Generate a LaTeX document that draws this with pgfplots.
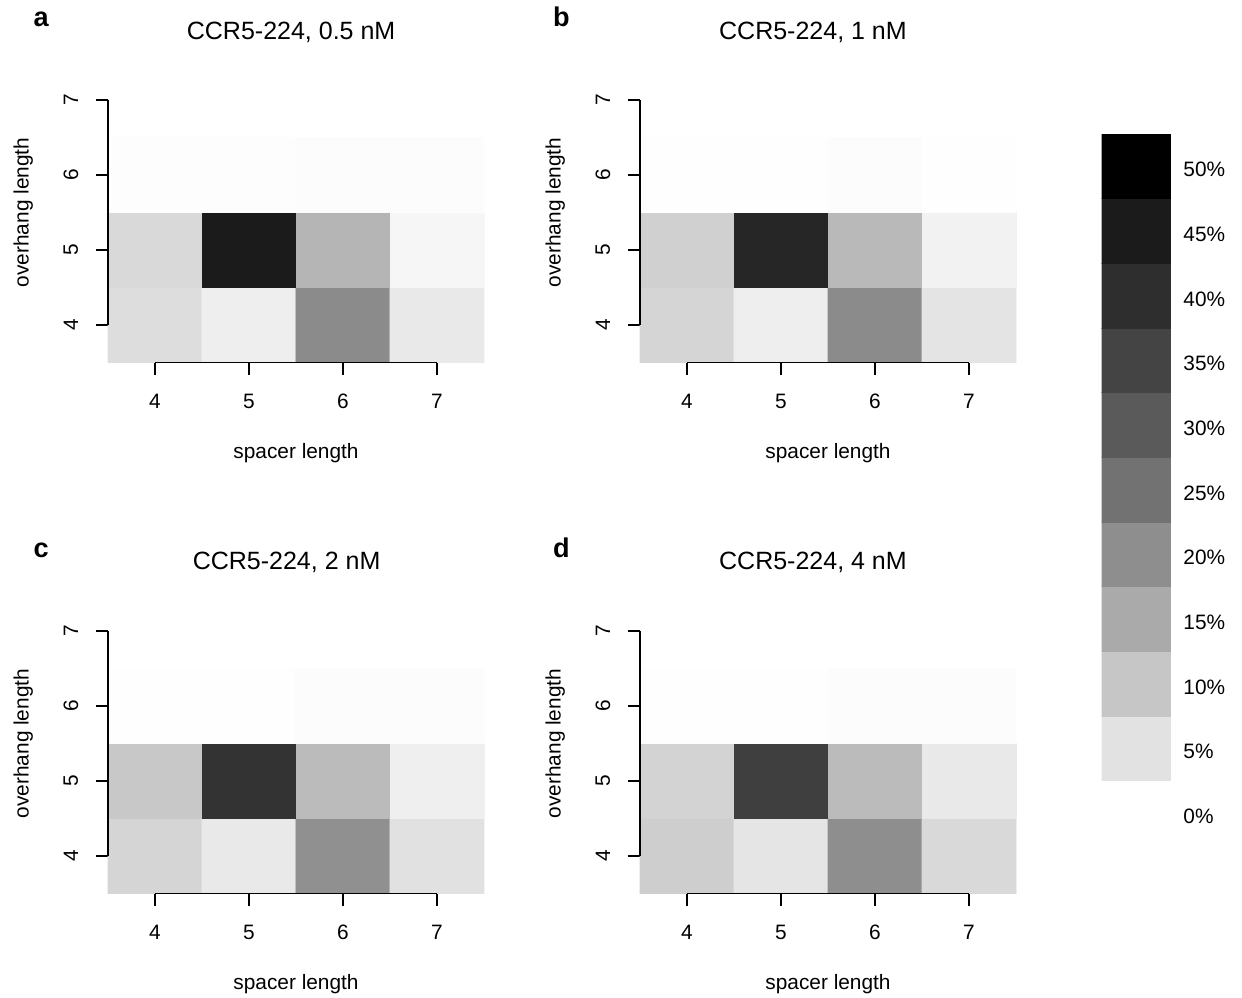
\documentclass[border=0pt]{standalone}
\usepackage{fontspec}
\setmainfont{Liberation Sans}
\usepackage{pgfplots}
\pgfplotsset{compat=1.18}

\tikzset{rlines/.style={line width=0.9pt, black}}

% grey scale read off the legend boxes (0% white ... 50% black)
\pgfplotsset{
  colormap={rgray}{rgb255(0cm)=(255,255,255) rgb255(5cm)=(226,226,226)
    rgb255(10cm)=(198,198,198) rgb255(15cm)=(170,170,170) rgb255(20cm)=(142,142,142)
    rgb255(25cm)=(114,114,114) rgb255(30cm)=(90,90,90) rgb255(35cm)=(68,68,68)
    rgb255(40cm)=(46,46,46) rgb255(45cm)=(27,27,27) rgb255(50cm)=(0,0,0)},
  heat/.style={
    scale only axis, width=180.48pt, height=144pt, anchor=south west,
    xmin=3.5, xmax=7.5, ymin=3.5, ymax=7.5,
    xtick={4,5,6,7}, ytick={4,5,6,7},
    axis lines*=left, axis line style={draw=none},
    tick align=outside, major tick length=6pt,
    tick style={black, line width=0.9pt},
    /pgf/number format/assume math mode=true,
    tick label style={font=\fontsize{10}{12}\selectfont},
    xticklabel style={anchor=center, yshift=-12.7pt},
    yticklabel style={anchor=center, xshift=-11.8pt, rotate=90},
    label style={font=\fontsize{10}{12}\selectfont},
    xlabel={spacer length}, ylabel={overhang length},
    xlabel style={at={(axis description cs:0.5,-0.3028)}, anchor=center},
    ylabel style={at={(axis description cs:-0.2255,0.5)}, anchor=center},
    title style={font=\fontsize{12}{14}\selectfont, anchor=base},
    colormap name=rgray, point meta min=0, point meta max=50,
    clip=false,
  },
}

\pgfplotstableread{
x y v
4 4 5.9
5 4 2.9
6 4 20.5
7 4 3.8
4 5 6.6
5 5 45.0
6 5 13.0
7 5 1.6
4 6 0.3
5 6 0.3
6 6 0.5
7 6 0.5
}\dataA
\pgfplotstableread{
x y v
4 4 7.3
5 4 2.9
6 4 20.5
7 4 4.7
4 5 8.2
5 5 42.1
6 5 12.3
7 5 2.2
4 6 0.2
5 6 0.2
6 6 0.5
7 6 0.2
}\dataB
\pgfplotstableread{
x y v
4 4 7.3
5 4 3.8
6 4 19.6
7 4 5.2
4 5 9.6
5 5 38.9
6 5 12.0
7 5 2.8
4 6 0.2
5 6 0.2
6 6 0.5
7 6 0.5
}\dataC
\pgfplotstableread{
x y v
4 4 8.6
5 4 4.5
6 4 20.0
7 4 6.6
4 5 7.7
5 5 36.1
6 5 12.0
7 5 3.8
4 6 0.2
5 6 0.2
6 6 0.5
7 6 0.5
}\dataD
% legend: corners of the boxes, the colour of each box is the one of its lower corner
\pgfplotstableread{
x y v
-0.5 0.5 5
1.5 0.5 5
-0.5 1.5 10
1.5 1.5 10
-0.5 2.5 15
1.5 2.5 15
-0.5 3.5 20
1.5 3.5 20
-0.5 4.5 25
1.5 4.5 25
-0.5 5.5 30
1.5 5.5 30
-0.5 6.5 35
1.5 6.5 35
-0.5 7.5 40
1.5 7.5 40
-0.5 8.5 45
1.5 8.5 45
-0.5 9.5 50
1.5 9.5 50
-0.5 10.5 50
1.5 10.5 50
}\legdata

\begin{document}
\begin{tikzpicture}
\useasboundingbox (0pt,0pt) rectangle (596.16pt,-478.56pt);

\begin{axis}[heat, at={(51.84pt,-174pt)}, title={CCR5-224, 0.5 nM},
  title style={at={(axis description cs:0.487,1.035)}}]
\addplot[matrix plot*, mesh/cols=4, point meta=explicit] table[meta=v] {\dataA};
\draw[rlines] (axis cs:4,3.5) -- (axis cs:7,3.5);
\draw[rlines] (axis cs:3.5,4) -- (axis cs:3.5,7);
\end{axis}

\begin{axis}[heat, at={(307.2pt,-174pt)}, title={CCR5-224, 1 nM},
  title style={at={(axis description cs:0.46,1.035)}}]
\addplot[matrix plot*, mesh/cols=4, point meta=explicit] table[meta=v] {\dataB};
\draw[rlines] (axis cs:4,3.5) -- (axis cs:7,3.5);
\draw[rlines] (axis cs:3.5,4) -- (axis cs:3.5,7);
\end{axis}

\begin{axis}[heat, at={(51.84pt,-428.9pt)}, title={CCR5-224, 2 nM},
  title style={at={(axis description cs:0.475,1.038)}}]
\addplot[matrix plot*, mesh/cols=4, point meta=explicit] table[meta=v] {\dataC};
\draw[rlines] (axis cs:4,3.5) -- (axis cs:7,3.5);
\draw[rlines] (axis cs:3.5,4) -- (axis cs:3.5,7);
\end{axis}

\begin{axis}[heat, at={(307.2pt,-428.9pt)}, title={CCR5-224, 4 nM},
  title style={at={(axis description cs:0.46,1.038)}}]
\addplot[matrix plot*, mesh/cols=4, point meta=explicit] table[meta=v] {\dataD};
\draw[rlines] (axis cs:4,3.5) -- (axis cs:7,3.5);
\draw[rlines] (axis cs:3.5,4) -- (axis cs:3.5,7);
\end{axis}

% legend boxes
\begin{axis}[scale only axis, width=33.26pt, height=341.3pt, anchor=south west,
  at={(528.8pt,-405.7pt)}, xmin=-0.5, xmax=1.5, ymin=-0.5, ymax=10.5,
  axis line style={draw=none}, xtick=\empty, ytick={0,...,10},
  yticklabels={0\%,5\%,10\%,15\%,20\%,25\%,30\%,35\%,40\%,45\%,50\%},
  yticklabel pos=right, major tick length=0pt, tick style={draw=none},
  yticklabel style={anchor=west, inner sep=0pt, xshift=5.8pt, yshift=-1.6pt,
    font=\fontsize{10}{12}\selectfont},
  colormap name=rgray, point meta min=0, point meta max=50]
\addplot[surf, shader=flat corner, mesh/cols=2, point meta=explicit]
  table[meta=v] {\legdata};
\end{axis}

\node[anchor=base west, font=\bfseries\fontsize{13}{15}\selectfont] at (12.6pt,-12.5pt) {a};
\node[anchor=base west, font=\bfseries\fontsize{13}{15}\selectfont] at (262pt,-12.5pt) {b};
\node[anchor=base west, font=\bfseries\fontsize{13}{15}\selectfont] at (12.6pt,-267.8pt) {c};
\node[anchor=base west, font=\bfseries\fontsize{13}{15}\selectfont] at (262pt,-267.8pt) {d};
\end{tikzpicture}
\end{document}
